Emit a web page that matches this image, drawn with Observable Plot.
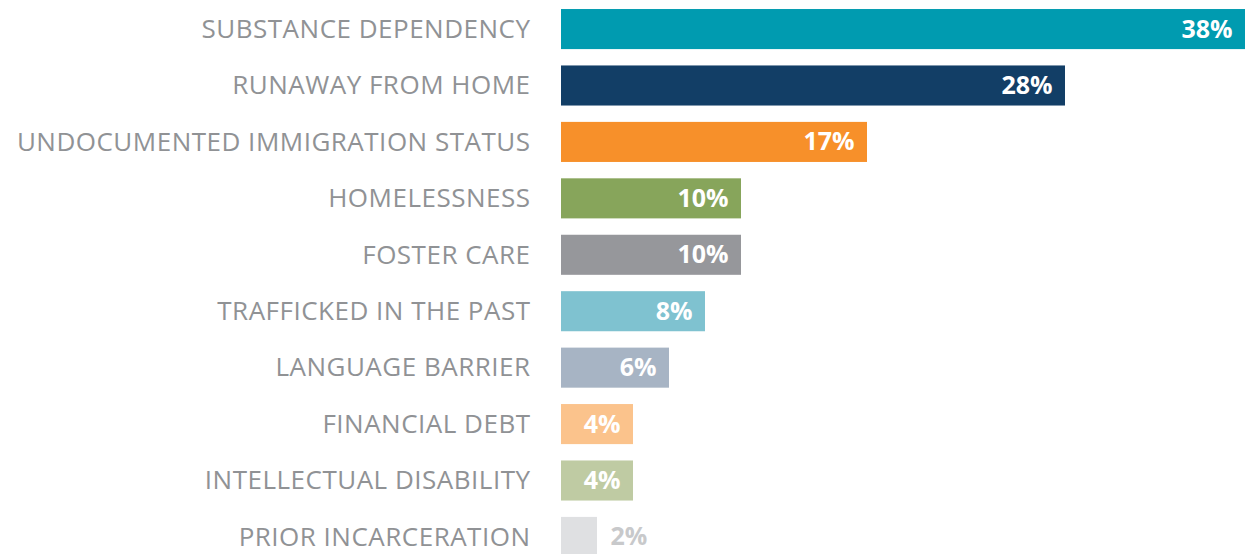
<!DOCTYPE html>
<html>
<head>
<meta charset="utf-8">
<script src="https://cdn.jsdelivr.net/npm/d3@7"></script>
<script src="https://cdn.jsdelivr.net/npm/@observablehq/plot@0.6"></script>
<style>
  html, body { margin: 0; padding: 0; background: #fff; overflow: hidden; }
  #chart svg { display: block; }
</style>
</head>
<body>
<div id="chart"></div>
<script>
const categories = [
  "SUBSTANCE DEPENDENCY",
  "RUNAWAY FROM HOME",
  "UNDOCUMENTED IMMIGRATION STATUS",
  "HOMELESSNESS",
  "FOSTER CARE",
  "TRAFFICKED IN THE PAST",
  "LANGUAGE BARRIER",
  "FINANCIAL DEBT",
  "INTELLECTUAL DISABILITY",
  "PRIOR INCARCERATION"
];
const values = [38, 28, 17, 10, 10, 8, 6, 4, 4, 2];
const colors = ["#009bb0", "#123e66", "#f7902a", "#87a55b", "#96979b", "#7fc2d0", "#a7b4c4", "#fbc38c", "#bfcba3", "#dfe0e2"];

const data = categories.map((c, i) => ({category: c, value: values[i], color: colors[i]}));
const inside = data.filter(d => d.value > 2);
const outside = data.filter(d => d.value <= 2);

const chart = Plot.plot({
  width: 1245,
  height: 554,
  marginLeft: 561,
  marginRight: 0,
  marginTop: 0,
  marginBottom: 0,
  style: {fontFamily: "'Open Sans', sans-serif", background: "#fff", overflow: "visible"},
  x: {domain: [0, 38], range: [561, 1245], axis: null},
  y: {domain: categories, range: [0, 566], paddingInner: 0.29, paddingOuter: 0.16, round: false, axis: null},
  color: {domain: categories, range: colors},
  marks: [
    Plot.barX(data, {x: "value", y: "category", fill: "category"}),
    Plot.text(data, {
      y: "category", text: "category", frameAnchor: "left", dx: -31, textAnchor: "end",
      fill: "#909295", fontSize: 26, fontWeight: 400
    }),
    Plot.text(inside, {
      x: "value", y: "category", text: d => d.value + "%", dx: -13, textAnchor: "end",
      fill: "#ffffff", fontSize: 25, fontWeight: 700
    }),
    Plot.text(outside, {
      x: "value", y: "category", text: d => d.value + "%", dx: 13, textAnchor: "start",
      fill: "#c8c9cb", fontSize: 25, fontWeight: 700
    })
  ]
});
d3.select(chart).selectAll("text")
  .filter(function() { return categories.includes(this.textContent); })
  .style("letter-spacing", "0.5px");
document.getElementById("chart").appendChild(chart);
</script>
</body>
</html>
